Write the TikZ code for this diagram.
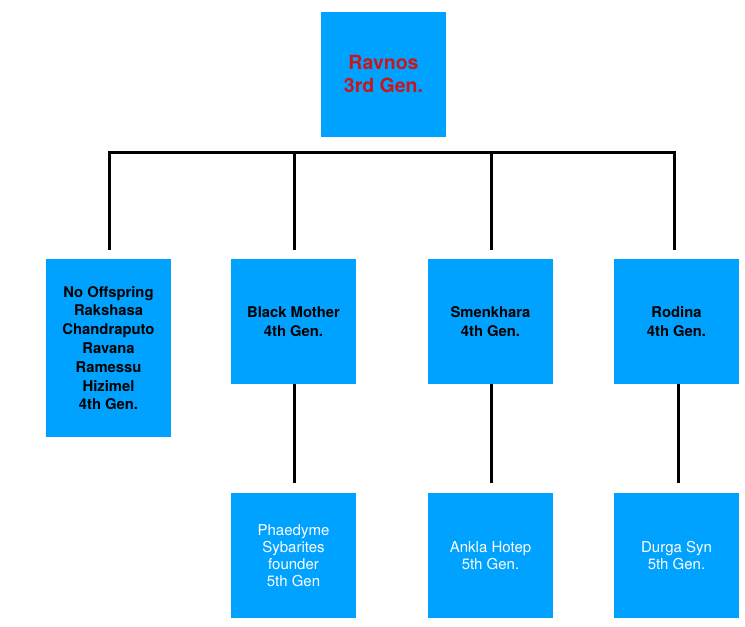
\documentclass[tikz,border=0pt]{standalone}
\usepackage{fontspec}
\setmainfont{TeX Gyre Heros}
\usetikzlibrary{calc}
\definecolor{boxblue}{HTML}{00A2FF}
\definecolor{rootred}{HTML}{C8161C}
\tikzset{
  box/.style={fill=boxblue, draw=none, minimum width=125pt, minimum height=125pt, inner sep=0pt, align=center},
  rootbox/.style={box, text=rootred, font=\bfseries\fontsize{19.5}{23}\selectfont},
  midbox/.style={box, text=black, font=\bfseries\fontsize{14.8}{18.8}\selectfont},
  leafbox/.style={box, text=white, font=\fontsize{15}{17.2}\selectfont},
  conn/.style={line width=3pt, black, line cap=rect, line join=miter},
}
\begin{document}
\begin{tikzpicture}[x=1pt,y=1pt]
\useasboundingbox (0,0) rectangle (745,-627);
\node[rootbox] (root) at (383.5,-74.5) {Ravnos\\3rd Gen.};
\node[midbox, minimum height=178pt] (a) at (108.5,-348) {No Offspring\\Rakshasa\\Chandraputo\\Ravana\\Ramessu\\Hizimel\\4th Gen.};
\node[midbox] (b) at (293.5,-321.5) {Black Mother\\4th Gen.};
\node[midbox] (c) at (490.5,-321.5) {Smenkhara\\4th Gen.};
\node[midbox] (d) at (676.5,-321.5) {Rodina\\4th Gen.};
\node[leafbox] (e) at (293.5,-555.5) {Phaedyme\\Sybarites\\founder\\5th Gen};
\node[leafbox] (f) at (490.5,-555.5) {Ankla Hotep\\5th Gen.};
\node[leafbox] (g) at (676.5,-555.5) {Durga Syn\\5th Gen.};
\coordinate (bar) at (0,-152);
% bar with outer drops
\draw[conn] ($(a.north)+(0.5,10)$) -- ($(a.north|-bar)+(0.5,0)$) -- ($(d.north|-bar)+(-2,0)$) -- ($(d.north)+(-2,10)$);
\draw[conn] ($(b.north|-bar)+(0.5,0)$) -- ($(b.north)+(0.5,10)$);
\draw[conn] ($(c.north|-bar)+(0.5,0)$) -- ($(c.north)+(0.5,10)$);
% lower connectors
\draw[conn, line cap=butt] ($(b.south)+(0.5,0)$) -- ($(e.north)+(0.5,10)$);
\draw[conn, line cap=butt] ($(c.south)+(0.5,0)$) -- ($(f.north)+(0.5,10)$);
\draw[conn, line cap=butt] ($(d.south)+(1.5,0)$) -- ($(g.north)+(1.5,10)$);
\end{tikzpicture}
\end{document}
